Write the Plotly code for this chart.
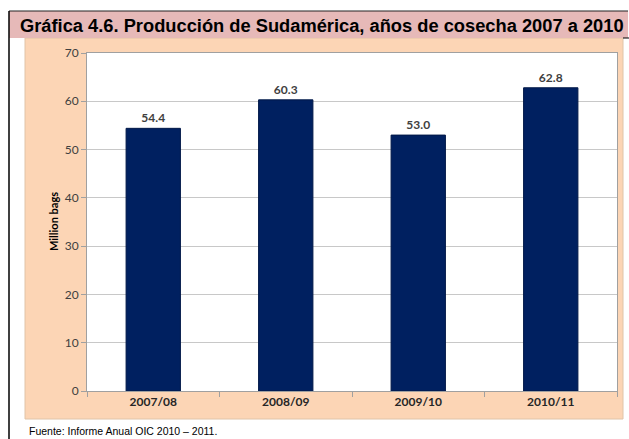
import plotly.graph_objects as go

categories = ["2007/08", "2008/09", "2009/10", "2010/11"]
values = [54.4, 60.3, 53.0, 62.8]
value_labels = ["54.4", "60.3", "53.0", "62.8"]
y_ticks = [0, 10, 20, 30, 40, 50, 60, 70]

W, H = 629, 439
L, R, T, B = 87, 617, 53, 391


def px(x):
    return (x - L) / (R - L)


def py(y):
    return (B - y) / (B - T)


CAL = "Lato, Carlito, Open Sans, Liberation Sans, Arial"

fig = go.Figure()
fig.add_trace(go.Bar(
    x=categories, y=values,
    marker=dict(color="#002060", line=dict(color="#001848", width=1)),
    text=["<b>%s</b>" % t for t in value_labels], textposition="outside", cliponaxis=False,
    textfont=dict(family=CAL, size=12, color="#404040"),
    width=0.41,
))

shapes = [
    dict(type="rect", xref="paper", yref="paper", x0=px(25), x1=px(623), y0=py(419), y1=py(38),
         fillcolor="#fcd5b5", line=dict(color="#e0c4a8", width=1), layer="below"),
    dict(type="rect", xref="paper", yref="paper", x0=0, x1=1, y0=0, y1=1,
         fillcolor="white", line=dict(width=0), layer="below"),
    dict(type="rect", xref="paper", yref="paper", x0=px(9), x1=px(628), y0=py(38), y1=py(11),
         fillcolor="#e6b9b8", line=dict(width=0), layer="below"),
    dict(type="line", xref="paper", yref="paper", x0=px(9), x1=px(628), y0=py(11), y1=py(11),
         line=dict(color="#222222", width=1)),
    dict(type="line", xref="paper", yref="paper", x0=px(9), x1=px(9), y0=py(11), y1=py(439),
         line=dict(color="#000000", width=1.5)),
    dict(type="line", xref="paper", yref="paper", x0=px(623), x1=px(629), y0=py(38), y1=py(38),
         line=dict(color="#000000", width=1)),
]

annotations = [
    dict(text="<b>Gráfica 4.6. Producción de Sudamérica, años de cosecha 2007 a 2010</b>",
         xref="paper", yref="paper", x=px(18), y=py(25), xanchor="left", yanchor="middle",
         showarrow=False,
         font=dict(family="Liberation Sans, Arial", size=18.3, color="#000000")),
    dict(text="<b>Million bags</b>", xref="paper", yref="paper", x=px(53), y=py(222),
         xanchor="center", yanchor="middle", textangle=-90, showarrow=False,
         font=dict(family=CAL, size=11, color="#000000")),
    dict(text="Fuente: Informe Anual OIC 2010 – 2011.", xref="paper", yref="paper",
         x=px(27), y=py(439), xanchor="left", yanchor="bottom", showarrow=False,
         font=dict(family="Liberation Sans, Arial", size=10.5, color="#000000")),
]

fig.update_layout(
    width=W, height=H,
    margin=dict(l=L, r=W - R, t=T, b=H - B, pad=0),
    paper_bgcolor="white", plot_bgcolor="rgba(0,0,0,0)",
    showlegend=False,
    bargap=0.59,
    shapes=shapes, annotations=annotations,
    xaxis=dict(
        type="category", showline=True, linecolor="#a0a0a0", linewidth=1, mirror=True,
        ticks="outside", ticklen=5, tickcolor="#a0a0a0", tickson="boundaries",
        tickfont=dict(family=CAL, size=12, color="#262626"),
        tickprefix="<b>", ticksuffix="</b>", showgrid=False,
    ),
    yaxis=dict(
        range=[0, 70], tickvals=y_ticks, showline=True, linecolor="#a0a0a0", linewidth=1,
        mirror=True, ticks="outside", ticklen=5, tickcolor="#a0a0a0",
        showgrid=True, gridcolor="#c8c8c8", gridwidth=1, zeroline=False,
        tickfont=dict(family=CAL, size=12, color="#404040"),
    ),
)

fig.write_html(
    "out.html",
    config={"displayModeBar": False},
    post_script="document.body.style.margin='0';document.body.style.overflow='hidden';",
)
